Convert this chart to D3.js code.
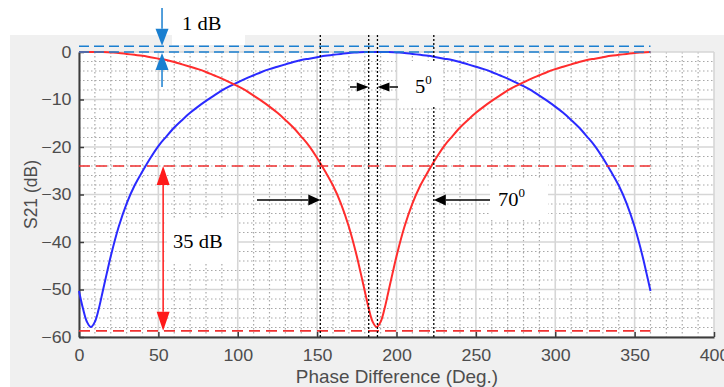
<!DOCTYPE html>
<html>
<head>
<meta charset="utf-8">
<script src="https://cdn.jsdelivr.net/npm/d3@7"></script>
<style>
  body { margin: 0; background: #fff; }
  svg { display: block; }
</style>
</head>
<body>
<svg id="chart" width="724" height="387"></svg>
<script>
//Red trace (phase in deg, S21 in dB)
let redPhase = [0,5,10,15,20,25,30,35,40,45,50,55,60,65,70,75,80,85,90,95,100,105,110,115,120,125,130,135,140,145,150,155,160,165,170,175,177.5,180,182.5,185,187.5,190,192.5,195,197.5,200,205,210,215,220,225,230,235,240,245,250,255,260,265,270,275,280,285,290,295,300,305,310,315,320,325,330,335,340,345,350,355,360];
let redDb = [0,0,0,0,-0.1,-0.2,-0.4,-0.6,-0.8,-1.1,-1.4,-1.7,-2.1,-2.6,-3.1,-3.6,-4.2,-4.9,-5.6,-6.4,-7.2,-8.1,-9.2,-10.3,-11.5,-12.8,-14.3,-15.9,-17.8,-19.8,-22.3,-25.1,-28.1,-31.9,-36.8,-43.0,-46.6,-50.3,-54.0,-56.8,-57.9,-56.8,-54.0,-50.3,-46.6,-43.0,-36.8,-31.9,-28.1,-25.1,-22.3,-19.8,-17.8,-15.9,-14.3,-12.8,-11.5,-10.3,-9.2,-8.1,-7.2,-6.4,-5.6,-4.9,-4.2,-3.6,-3.1,-2.6,-2.1,-1.7,-1.4,-1.1,-0.8,-0.6,-0.4,-0.2,-0.1,0];
//Blue trace
let bluePhase = [0,2.5,5,7.5,10,12.5,15,17.5,20,25,30,35,40,45,50,55,60,65,70,75,80,85,90,95,100,105,110,115,120,125,130,135,140,145,150,155,160,165,170,175,180,185,190,195,200,205,210,215,220,225,230,235,240,245,250,255,260,265,270,275,280,285,290,295,300,305,310,315,320,325,330,335,340,345,350,355,357.5,360];
let blueDb = [-50.3,-54.0,-56.8,-57.9,-56.8,-54.0,-50.3,-46.6,-43.0,-36.8,-31.9,-28.1,-25.1,-22.3,-19.8,-17.8,-15.9,-14.3,-12.8,-11.5,-10.3,-9.2,-8.1,-7.2,-6.4,-5.6,-4.9,-4.2,-3.6,-3.1,-2.6,-2.1,-1.7,-1.4,-1.1,-0.8,-0.6,-0.4,-0.2,-0.1,0,0,0,0,-0.1,-0.2,-0.4,-0.6,-0.8,-1.1,-1.4,-1.7,-2.1,-2.6,-3.1,-3.6,-4.2,-4.9,-5.6,-6.4,-7.2,-8.1,-9.2,-10.3,-11.5,-12.8,-14.3,-15.9,-17.8,-19.8,-22.3,-25.1,-28.1,-31.9,-36.8,-43.0,-46.6,-50.3];
//Tick values
let xTicks = [0,50,100,150,200,250,300,350,400];
let yTicks = [0,-10,-20,-30,-40,-50,-60];
//Annotation values
let markerPhases = [152, 182.5, 188, 223.5];
let redLevels = [-24, -58.7];
let blueLevels = [0, 1.2];

let svg = d3.select("#chart");
let x = d3.scaleLinear().domain([0, 400]).range([79, 714]);
let y = d3.scaleLinear().domain([-60, 0]).range([337, 52]);
let stretch = "scale(1.08,1)";

//figure background
svg.append("rect").attr("x", 10).attr("y", 35).attr("width", 714).attr("height", 352).attr("fill", "#f0f0f0");
svg.append("rect").attr("x", x(0)).attr("y", y(0)).attr("width", x(400) - x(0)).attr("height", y(-60) - y(0)).attr("fill", "#fff");

//minor grid
let g = svg.append("g");
g.selectAll(".vminor").data(d3.range(10, 400, 10).filter(d => d % 50 !== 0))
  .enter().append("line")
  .attr("x1", d => x(d)).attr("x2", d => x(d)).attr("y1", y(0)).attr("y2", y(-60))
  .attr("stroke", "#a8a8a8").attr("stroke-width", 1.2).attr("stroke-dasharray", "1.5,2.5");
g.selectAll(".hminor").data(d3.range(-58, 0, 2).filter(d => d % 10 !== 0))
  .enter().append("line")
  .attr("x1", x(0)).attr("x2", x(400)).attr("y1", d => y(d)).attr("y2", d => y(d))
  .attr("stroke", "#a8a8a8").attr("stroke-width", 1.2).attr("stroke-dasharray", "1.5,2.5");
//major grid
g.selectAll(".vmajor").data(xTicks).enter().append("line")
  .attr("x1", d => x(d)).attr("x2", d => x(d)).attr("y1", y(0)).attr("y2", y(-60))
  .attr("stroke", "#d6d6d6").attr("stroke-width", 1.6);
g.selectAll(".hmajor").data(yTicks).enter().append("line")
  .attr("x1", x(0)).attr("x2", x(400)).attr("y1", d => y(d)).attr("y2", d => y(d))
  .attr("stroke", "#d6d6d6").attr("stroke-width", 1.6);

//axes
let xAxis = svg.append("g").attr("transform", "translate(0," + y(-60) + ")")
  .call(d3.axisBottom(x).tickValues(xTicks).tickSize(-5).tickSizeOuter(0).tickPadding(12));
let yAxis = svg.append("g").attr("transform", "translate(" + x(0) + ",0)")
  .call(d3.axisLeft(y).tickValues(yTicks).tickSize(-5).tickSizeOuter(0).tickPadding(7));
[xAxis, yAxis].forEach(function (a) {
  a.select(".domain").attr("stroke", "#3c3c3c").attr("stroke-width", 2);
  a.selectAll(".tick line").attr("stroke", "#3c3c3c").attr("stroke-width", 1.5);
  a.selectAll(".tick text").attr("fill", "#4d4d4d").attr("font-size", "16.5px")
    .attr("font-family", "'Liberation Sans', Arial, sans-serif").attr("transform", stretch);
});

//axis names
svg.append("text").attr("transform", "translate(397,383) " + stretch)
  .attr("text-anchor", "middle").attr("fill", "#4d4d4d").attr("font-size", "17.5px")
  .attr("font-family", "'Liberation Sans', Arial, sans-serif").text("Phase Difference (Deg.)");
svg.append("text").attr("transform", "translate(37," + ((y(0) + y(-60)) / 2) + ") rotate(-90)")
  .attr("text-anchor", "middle").attr("fill", "#4d4d4d").attr("font-size", "17.5px")
  .attr("font-family", "'Liberation Sans', Arial, sans-serif").text("S21 (dB)");

//curves
let line = d3.line().x(d => x(d[0])).y(d => y(d[1])).curve(d3.curveCatmullRom.alpha(0.5));
svg.append("path").datum(d3.zip(bluePhase, blueDb)).attr("d", line)
  .attr("fill", "none").attr("stroke", "#2a2aff").attr("stroke-width", 2);
svg.append("path").datum(d3.zip(redPhase, redDb)).attr("d", line)
  .attr("fill", "none").attr("stroke", "#ff2d2d").attr("stroke-width", 2);

//reference dashed levels
svg.selectAll(".blevel").data(blueLevels).enter().append("line")
  .attr("x1", x(0)).attr("x2", x(360)).attr("y1", d => y(d)).attr("y2", d => y(d))
  .attr("stroke", "#1a7fd0").attr("stroke-width", 1.6).attr("stroke-dasharray", "10,5");
svg.selectAll(".rlevel").data(redLevels).enter().append("line")
  .attr("x1", x(0)).attr("x2", x(360)).attr("y1", d => y(d)).attr("y2", d => y(d))
  .attr("stroke", "#f03030").attr("stroke-width", 1.6).attr("stroke-dasharray", "11,6");
//dotted phase markers
svg.selectAll(".marker").data(markerPhases).enter().append("line")
  .attr("x1", d => x(d)).attr("x2", d => x(d)).attr("y1", 35).attr("y2", y(-60))
  .attr("stroke", "#000").attr("stroke-width", 1.3).attr("stroke-dasharray", "2,2");

//arrow helper: line from tail to base of head, head ends at tip
function arrow(x1, y1, x2, y2, color, len, half) {
  let dx = x2 - x1, dy = y2 - y1, L = Math.sqrt(dx * dx + dy * dy);
  let ux = dx / L, uy = dy / L;
  let bx = x2 - ux * len, by = y2 - uy * len;
  svg.append("line").attr("x1", x1).attr("y1", y1).attr("x2", bx).attr("y2", by)
    .attr("stroke", color).attr("stroke-width", 1.5);
  svg.append("path")
    .attr("d", "M" + x2 + "," + y2 + "L" + (bx - uy * half) + "," + (by + ux * half) +
      "L" + (bx + uy * half) + "," + (by - ux * half) + "Z")
    .attr("fill", color);
}

//label boxes and texts
function label(ax, ay, box, main, sup) {
  svg.append("rect").attr("x", ax + box[0]).attr("y", ay + box[1])
    .attr("width", box[2]).attr("height", box[3]).attr("fill", "#fff");
  let t = svg.append("text").attr("transform", "translate(" + ax + "," + ay + ") " + stretch)
    .attr("font-family", "'Liberation Serif', 'Times New Roman', serif").attr("font-size", "19px")
    .attr("fill", "#000").text(main);
  if (sup) t.append("tspan").attr("font-size", "12px").attr("dy", -9).text(sup);
}

label(182, 30, [-10, -30, 73, 45], "1 dB");
label(415, 93, [-16, -32, 44, 46], "5", "0");
label(498, 206, [-8, -28, 58, 40], "70", "0");
label(173, 248, [-6, -30, 70, 45], "35 dB");

//1 dB arrows
let bx = x(52.3);
arrow(bx, 8, bx, y(blueLevels[1]) - 0.5, "#1a7fd0", 17, 6.5);
arrow(bx, 87, bx, y(blueLevels[0]) + 1, "#1a7fd0", 17, 6.5);
//35 dB arrows
let rx = x(53);
arrow(rx, 240, rx, y(redLevels[0]), "#ff1a1a", 19, 6.5);
arrow(rx, 240, rx, y(redLevels[1]), "#ff1a1a", 19, 6.5);
//5 deg arrows
arrow(350, 87, x(markerPhases[1]), 87, "#000", 12, 4.5);
arrow(398, 87, x(markerPhases[2]), 87, "#000", 12, 4.5);
//70 deg arrows
arrow(257, 200, x(markerPhases[0]), 200, "#000", 12, 5.5);
arrow(490, 200, x(markerPhases[3]), 200, "#000", 12, 5.5);
</script>
</body>
</html>
